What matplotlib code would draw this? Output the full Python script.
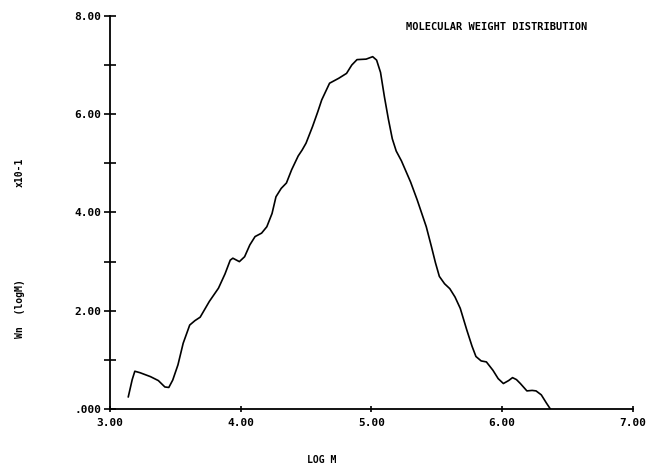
import numpy as np
import matplotlib
matplotlib.use('Agg')
import matplotlib.pyplot as plt
from matplotlib.ticker import MultipleLocator, FixedLocator

# values (log M, Wn x10)
log_m = [3.14, 3.17, 3.19, 3.23, 3.31, 3.37, 3.42, 3.45, 3.48, 3.52, 3.56,
         3.61, 3.65, 3.69, 3.76, 3.83, 3.88, 3.92, 3.94, 3.99, 4.03, 4.07,
         4.11, 4.16, 4.20, 4.24, 4.27, 4.31, 4.35, 4.39, 4.44, 4.47, 4.50,
         4.55, 4.59, 4.62, 4.68, 4.75, 4.81, 4.85, 4.89, 4.96, 5.01, 5.04,
         5.07, 5.10, 5.13, 5.16, 5.19, 5.23, 5.30, 5.35, 5.42, 5.46, 5.49,
         5.52, 5.56, 5.60, 5.64, 5.68, 5.73, 5.77, 5.80, 5.84, 5.88, 5.93,
         5.97, 6.01, 6.05, 6.08, 6.11, 6.14, 6.19, 6.23, 6.26, 6.30, 6.34,
         6.37]
wn = [0.25, 0.60, 0.77, 0.74, 0.66, 0.58, 0.45, 0.44, 0.59, 0.90, 1.34,
      1.71, 1.80, 1.87, 2.19, 2.46, 2.75, 3.03, 3.07, 3.00, 3.10, 3.34,
      3.51, 3.58, 3.71, 3.98, 4.32, 4.49, 4.60, 4.87, 5.15, 5.27, 5.41,
      5.75, 6.05, 6.29, 6.63, 6.73, 6.83, 7.00, 7.11, 7.12, 7.17, 7.10,
      6.85, 6.35, 5.90, 5.50, 5.25, 5.05, 4.62, 4.26, 3.71, 3.30, 2.98,
      2.70, 2.55, 2.45, 2.28, 2.05, 1.61, 1.28, 1.07, 0.98, 0.96, 0.79,
      0.62, 0.52, 0.58, 0.64, 0.60, 0.52, 0.37, 0.38, 0.37, 0.29, 0.12,
      0.0]

x_ticks = [3, 4, 5, 6, 7]
x_tick_labels = ['3.00', '4.00', '5.00', '6.00', '7.00']
y_ticks = [0, 2, 4, 6, 8]
y_tick_labels = ['.000', '2.00', '4.00', '6.00', '8.00']

mono = 'DejaVu Sans Mono'

fig = plt.figure(figsize=(6.47, 4.67), dpi=100)
ax = fig.add_axes([0.170, 0.124, 0.808, 0.842])

ax.plot(log_m, wn, color='black', linewidth=1.2, solid_joinstyle='round')

ax.set_xlim(3, 7)
ax.set_ylim(0, 8)
ax.spines['top'].set_visible(False)
ax.spines['right'].set_visible(False)
ax.spines['left'].set_linewidth(1.3)
ax.spines['bottom'].set_linewidth(1.3)

ax.xaxis.set_major_locator(FixedLocator(x_ticks))
ax.set_xticklabels(x_tick_labels)
ax.yaxis.set_major_locator(FixedLocator(y_ticks))
ax.set_yticklabels(y_tick_labels)
ax.yaxis.set_minor_locator(MultipleLocator(1))

ax.tick_params(axis='y', which='both', direction='inout', length=8, width=1.2, pad=2)
ax.tick_params(axis='x', which='major', direction='inout', length=5, width=1.2, pad=4)
for lab in ax.get_xticklabels() + ax.get_yticklabels():
    lab.set_family(mono)
    lab.set_fontweight('bold')
    lab.set_fontsize(8)

fig.text(0.497, 0.004, 'LOG M', family=mono, fontweight='bold', fontsize=7,
         ha='center', va='bottom')
fig.text(0.031, 0.630, 'x10-1', family=mono, fontweight='bold', fontsize=7,
         rotation=90, ha='center', va='center')
fig.text(0.031, 0.340, 'Wn  (logM)', family=mono, fontweight='bold', fontsize=7,
         rotation=90, ha='center', va='center')
fig.text(0.768, 0.942, 'MOLECULAR WEIGHT DISTRIBUTION', family=mono,
         fontweight='bold', fontsize=7.5, ha='center', va='center')

fig.savefig('out.png', dpi=100)
